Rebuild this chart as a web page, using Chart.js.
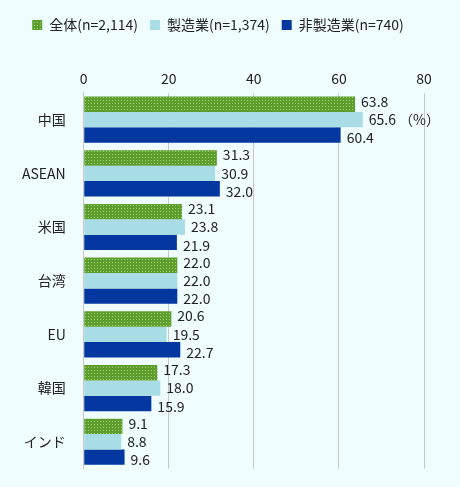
<!DOCTYPE html>
<html><head><meta charset="utf-8">
<script src="https://cdn.jsdelivr.net/npm/chart.js@4.4.0/dist/chart.umd.min.js"></script>
<style>
body{margin:0;background:#f0fdff;}
#wrap{width:460px;height:487px;position:relative;}
</style></head>
<body><div id="wrap"><canvas id="c"></canvas></div>
<script>
const categories = ['中国', 'ASEAN', '米国', '台湾', 'EU', '韓国', 'インド'];
const allValues = [63.8, 31.3, 23.1, 22.0, 20.6, 17.3, 9.1];
const mfgValues = [65.6, 30.9, 23.8, 22.0, 19.5, 18.0, 8.8];
const nonMfgValues = [60.4, 32.0, 21.9, 22.0, 22.7, 15.9, 9.6];
const seriesNames = ['全体(n=2,114)', '製造業(n=1,374)', '非製造業(n=740)'];

// dotted green fill
function greenPattern() {
  const p = document.createElement('canvas');
  p.width = 3; p.height = 3;
  const g = p.getContext('2d');
  g.fillStyle = '#5e9e2e';
  g.fillRect(0, 0, 3, 3);
  g.fillStyle = '#9fd06a';
  g.fillRect(1, 1, 1, 1);
  return g.createPattern(p, 'repeat');
}
const green = greenPattern();

const FONT = '"Noto Sans CJK JP", "Noto Sans", sans-serif';

const valueLabels = {
  id: 'valueLabels',
  afterDatasetsDraw(chart) {
    const ctx = chart.ctx;
    ctx.save();
    ctx.font = '14px ' + FONT;
    ctx.fillStyle = '#222';
    ctx.textBaseline = 'middle';
    chart.data.datasets.forEach((ds, i) => {
      chart.getDatasetMeta(i).data.forEach((bar, j) => {
        let t = ds.data[j].toFixed(1);
        if (i === 1 && j === 0) t += ' （%）';
        ctx.fillText(t, bar.x + 6, bar.y + (i === 0 ? -3 : i === 2 ? 3 : 0));
      });
    });
    ctx.restore();
  }
};

// extra space under the legend
const legendGap = {
  id: 'legendGap',
  beforeInit(chart) {
    const fit = chart.legend.fit;
    chart.legend.fit = function () { fit.bind(chart.legend)(); this.height += 22; };
  }
};

new Chart(document.getElementById('c').getContext('2d'), {
  type: 'bar',
  data: {
    labels: categories,
    datasets: [
      { label: seriesNames[0], data: allValues, backgroundColor: green },
      { label: seriesNames[1], data: mfgValues, backgroundColor: '#a9dde5' },
      { label: seriesNames[2], data: nonMfgValues, backgroundColor: '#0537a0' }
    ]
  },
  options: {
    indexAxis: 'y',
    responsive: true,
    maintainAspectRatio: false,
    animation: false,
    layout: { padding: { left: 12, right: 36, top: 6, bottom: 10 } },
    datasets: { bar: { categoryPercentage: 0.86, barPercentage: 1.0 } },
    scales: {
      x: {
        position: 'top', min: 0, max: 80,
        ticks: { stepSize: 20, color: '#222', padding: 6, font: { size: 14, family: FONT } },
        grid: { color: '#c8c8c8', drawTicks: false },
        border: { display: false }
      },
      y: {
        ticks: { color: '#222', font: { size: 14, family: FONT }, padding: 10 },
        grid: { display: false },
        border: { color: '#c8c8c8' }
      }
    },
    plugins: {
      legend: {
        labels: { boxWidth: 10, boxHeight: 10, color: '#222', padding: 12,
          font: { size: 14, family: FONT } }
      },
      tooltip: { enabled: false }
    }
  },
  plugins: [valueLabels, legendGap]
});
</script></body></html>
